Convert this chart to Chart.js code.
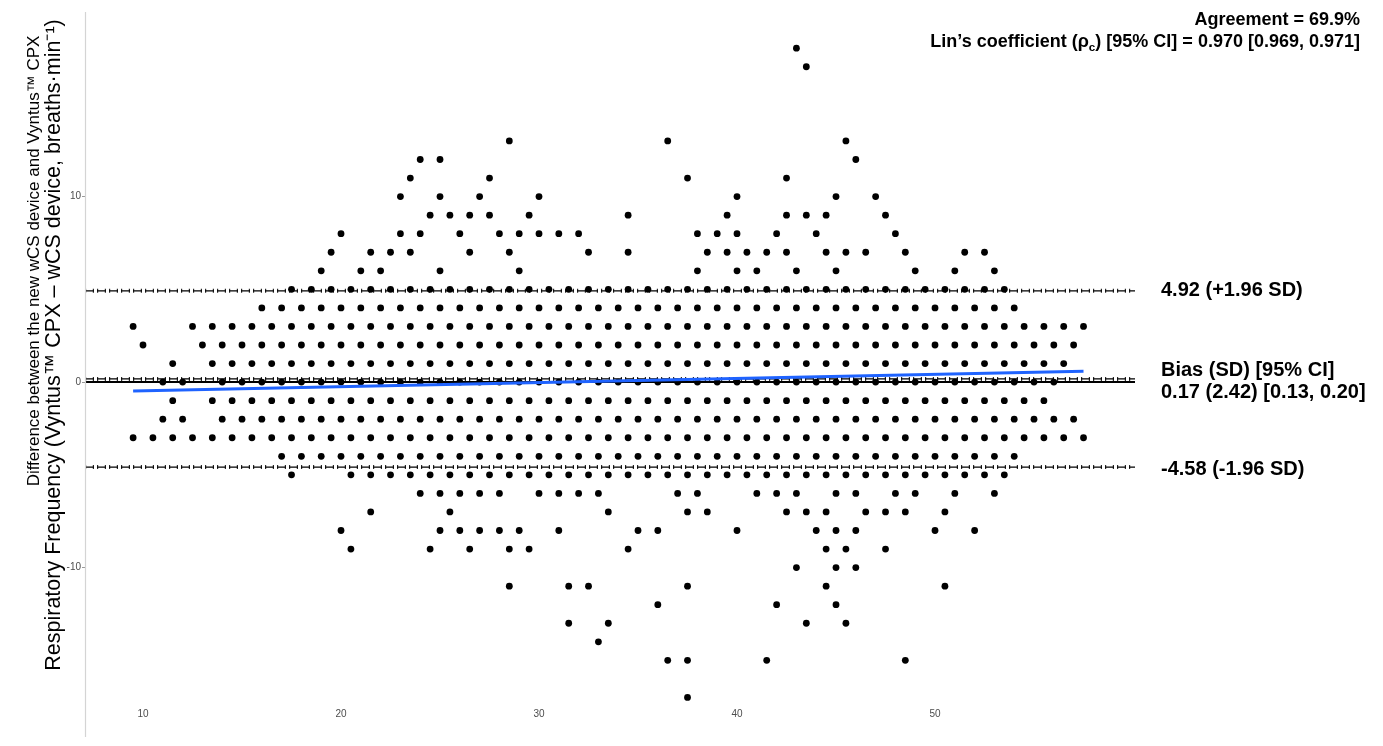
<!DOCTYPE html>
<html>
<head>
<meta charset="utf-8">
<script src="https://cdn.jsdelivr.net/npm/chart.js@4.4.1/dist/chart.umd.min.js"></script>
<style>
  html, body { margin: 0; padding: 0; background: #fff; }
  #wrap { width: 1383px; height: 746px; }
</style>
</head>
<body>
<div id="wrap"><canvas id="ba" width="1383" height="746"></canvas></div>
<script>
(() => {
  // difference levels (breaths/min) and the mean values found on each level
  const DIFF_LEVELS = [18, 17, 13, 12, 11, 10, 9, 8, 7, 6, 5, 4, 3, 2, 1, 0,
    -1, -2, -3, -4, -5, -6, -7, -8, -9, -10, -11, -12, -13, -14, -15, -17];

  const MEANS_AT_LEVEL = [
    [43],
    [43.5],
    [28.5, 36.5, 45.5],
    [24, 25, 46],
    [23.5, 27.5, 37.5, 42.5],
    [23, 25, 27, 30, 40, 45, 47],
    [24.5, 25.5, 26.5, 27.5, 29.5, 34.5, 39.5, 42.5, 43.5, 44.5, 47.5],
    [20, 23, 24, 26, 28, 29, 30, 31, 32, 38, 39, 40, 42, 44, 48],
    [19.5, 21.5, 22.5, 23.5, 26.5, 28.5, 32.5, 34.5, 38.5, 39.5, 40.5, 41.5, 42.5, 44.5, 45.5, 46.5, 48.5, 51.5, 52.5],
    [19, 21, 22, 25, 29, 38, 40, 41, 43, 45, 49, 51, 53],
    [17.5, 18.5, 19.5, 20.5, 21.5, 22.5, 23.5, 24.5, 25.5, 26.5, 27.5, 28.5, 29.5, 30.5, 31.5, 32.5, 33.5, 34.5, 35.5,
     36.5, 37.5, 38.5, 39.5, 40.5, 41.5, 42.5, 43.5, 44.5, 45.5, 46.5, 47.5, 48.5, 49.5, 50.5, 51.5, 52.5, 53.5],
    [16, 17, 18, 19, 20, 21, 22, 23, 24, 25, 26, 27, 28, 29, 30, 31, 32, 33, 34, 35,
     36, 37, 38, 39, 40, 41, 42, 43, 44, 45, 46, 47, 48, 49, 50, 51, 52, 53, 54],
    [9.5, 12.5, 13.5, 14.5, 15.5, 16.5, 17.5, 18.5, 19.5, 20.5, 21.5, 22.5, 23.5, 24.5, 25.5, 26.5, 27.5, 28.5, 29.5, 30.5, 31.5, 32.5, 33.5, 34.5,
     35.5, 36.5, 37.5, 38.5, 39.5, 40.5, 41.5, 42.5, 43.5, 44.5, 45.5, 46.5, 47.5, 48.5, 49.5, 50.5, 51.5, 52.5, 53.5, 54.5, 55.5, 56.5, 57.5],
    [10, 13, 14, 15, 16, 17, 18, 19, 20, 21, 22, 23, 24, 25, 26, 27, 28, 29, 30, 31, 32, 33, 34, 35,
     36, 37, 38, 39, 40, 41, 42, 43, 44, 45, 46, 47, 48, 49, 50, 51, 52, 53, 54, 55, 56, 57],
    [11.5, 13.5, 14.5, 15.5, 16.5, 17.5, 18.5, 19.5, 20.5, 21.5, 22.5, 23.5, 24.5, 25.5, 26.5, 27.5, 28.5, 29.5, 30.5, 31.5, 32.5, 33.5, 34.5,
     35.5, 36.5, 37.5, 38.5, 39.5, 40.5, 41.5, 42.5, 43.5, 44.5, 45.5, 46.5, 47.5, 48.5, 49.5, 50.5, 51.5, 52.5, 53.5, 54.5, 55.5, 56.5],
    [11, 12, 14, 15, 16, 17, 18, 19, 20, 21, 22, 23, 24, 25, 26, 27, 28, 29, 30, 31, 32, 33, 34, 35,
     36, 37, 38, 39, 40, 41, 42, 43, 44, 45, 46, 47, 48, 49, 50, 51, 52, 53, 54, 55, 56],
    [11.5, 13.5, 14.5, 15.5, 16.5, 17.5, 18.5, 19.5, 20.5, 21.5, 22.5, 23.5, 24.5, 25.5, 26.5, 27.5, 28.5, 29.5, 30.5, 31.5, 32.5, 33.5, 34.5,
     35.5, 36.5, 37.5, 38.5, 39.5, 40.5, 41.5, 42.5, 43.5, 44.5, 45.5, 46.5, 47.5, 48.5, 49.5, 50.5, 51.5, 52.5, 53.5, 54.5, 55.5],
    [11, 12, 14, 15, 16, 17, 18, 19, 20, 21, 22, 23, 24, 25, 26, 27, 28, 29, 30, 31, 32, 33, 34, 35,
     36, 37, 38, 39, 40, 41, 42, 43, 44, 45, 46, 47, 48, 49, 50, 51, 52, 53, 54, 55, 56, 57],
    [9.5, 10.5, 11.5, 12.5, 13.5, 14.5, 15.5, 16.5, 17.5, 18.5, 19.5, 20.5, 21.5, 22.5, 23.5, 24.5, 25.5, 26.5, 27.5, 28.5, 29.5, 30.5, 31.5, 32.5, 33.5,
     34.5, 35.5, 36.5, 37.5, 38.5, 39.5, 40.5, 41.5, 42.5, 43.5, 44.5, 45.5, 46.5, 47.5, 48.5, 49.5, 50.5, 51.5, 52.5, 53.5, 54.5, 55.5, 56.5, 57.5],
    [17, 18, 19, 20, 21, 22, 23, 24, 25, 26, 27, 28, 29, 30, 31, 32, 33, 34, 35,
     36, 37, 38, 39, 40, 41, 42, 43, 44, 45, 46, 47, 48, 49, 50, 51, 52, 53, 54],
    [17.5, 20.5, 21.5, 22.5, 23.5, 24.5, 25.5, 26.5, 27.5, 28.5, 29.5, 30.5, 31.5, 32.5, 33.5, 34.5, 35.5,
     36.5, 37.5, 38.5, 39.5, 40.5, 41.5, 42.5, 43.5, 44.5, 45.5, 46.5, 47.5, 48.5, 49.5, 50.5, 51.5, 52.5, 53.5],
    [24, 25, 26, 27, 28, 30, 31, 32, 33, 37, 38, 41, 42, 43, 45, 46, 48, 49, 51, 53],
    [21.5, 25.5, 33.5, 37.5, 38.5, 42.5, 43.5, 44.5, 46.5, 47.5, 48.5, 50.5],
    [20, 25, 26, 27, 28, 29, 31, 35, 36, 40, 44, 45, 46, 50, 52],
    [20.5, 24.5, 26.5, 28.5, 29.5, 34.5, 44.5, 45.5, 47.5],
    [43, 45, 46],
    [28.5, 31.5, 32.5, 37.5, 44.5, 50.5],
    [36, 42, 45],
    [31.5, 33.5, 43.5, 45.5],
    [33],
    [36.5, 37.5, 41.5, 48.5],
    [37.5]
  ];

  // linear trend of difference on mean
  const FIT_X = [9.5, 57.5];
  const FIT_Y = [-0.48, 0.58];

  const UPPER_LOA = 4.92;
  const BIAS = 0.17;
  const LOWER_LOA = -4.58;

  const X_TICKS = [10, 20, 30, 40, 50];
  const Y_TICKS = [-10, 0, 10];

  const X_MIN = 7.07, X_MAX = 60.1;
  const Y_MIN = -17.46, Y_MAX = 19.95;

  const FONT = "'Liberation Sans', Arial, Helvetica, sans-serif";

  const points = [];
  DIFF_LEVELS.forEach((d, i) => {
    MEANS_AT_LEVEL[i].forEach(m => points.push({ x: m, y: d }));
  });

  function hline(value, extra) {
    return Object.assign({
      type: 'line',
      data: [{ x: X_MIN, y: value }, { x: X_MAX, y: value }],
      borderColor: '#000',
      pointRadius: 0,
      fill: false,
      order: 3
    }, extra);
  }

  const datasets = [];
  [UPPER_LOA, BIAS, LOWER_LOA].forEach(v => {
    datasets.push(hline(v, { borderWidth: 1.3, borderDash: [9, 3] }));
    datasets.push(hline(v, { borderWidth: 4, borderColor: '#2a2a2a', borderDash: [1.2, 6.6, 1.2, 3] }));
  });
  datasets.push(hline(0, { borderWidth: 2 }));

  datasets.push({
    type: 'scatter',
    data: points,
    pointRadius: 3.4,
    pointBackgroundColor: '#000',
    pointBorderWidth: 0,
    order: 2
  });

  datasets.push({
    type: 'line',
    data: FIT_X.map((x, i) => ({ x, y: FIT_Y[i] })),
    borderColor: '#1f63ff',
    borderWidth: 3,
    pointRadius: 0,
    fill: false,
    order: 1
  });

  function richText(ctx, parts, xRight, y, size) {
    let total = 0;
    parts.forEach(p => {
      ctx.font = 'bold ' + (p.sub ? size * 0.65 : size) + 'px ' + FONT;
      p.w = ctx.measureText(p.t).width;
      total += p.w;
    });
    let x = xRight - total;
    parts.forEach(p => {
      ctx.font = 'bold ' + (p.sub ? size * 0.65 : size) + 'px ' + FONT;
      ctx.fillText(p.t, x, y + (p.sub ? size * 0.3 : 0));
      x += p.w;
    });
  }

  const annotate = {
    id: 'annotate',
    afterDraw(chart) {
      const { ctx, chartArea, scales } = chart;
      const ys = scales.y;
      ctx.save();

      // y axis line
      ctx.strokeStyle = '#d4d4d4';
      ctx.lineWidth = 1.2;
      ctx.beginPath();
      ctx.moveTo(chartArea.left + 0.5, chartArea.top);
      ctx.lineTo(chartArea.left + 0.5, chartArea.bottom + 31);
      ctx.stroke();

      ctx.fillStyle = '#000';
      ctx.textBaseline = 'middle';

      // y axis titles
      ctx.save();
      ctx.textAlign = 'center';
      ctx.translate(34, 261);
      ctx.rotate(-Math.PI / 2);
      ctx.font = '17px ' + FONT;
      ctx.fillText('Difference between the new wCS device and Vyntus\u2122 CPX', 0, 0);
      ctx.restore();

      ctx.save();
      ctx.textAlign = 'center';
      ctx.translate(54, 345);
      ctx.rotate(-Math.PI / 2);
      ctx.font = '21.5px ' + FONT;
      ctx.fillText('Respiratory Frequency (Vyntus\u2122 CPX \u2013 wCS device, breaths\u00b7min\u207b\u00b9)', 0, 0);
      ctx.restore();

      // header
      ctx.textAlign = 'left';
      richText(ctx, [{ t: 'Agreement = 69.9%' }], 1360, 20, 18);
      richText(ctx, [
        { t: 'Lin\u2019s coefficient (\u03c1' },
        { t: 'c', sub: true },
        { t: ') [95% CI] = 0.970 [0.969, 0.971]' }
      ], 1360, 42, 18);

      // limit labels
      const lx = chartArea.right + 26;
      ctx.font = 'bold 20px ' + FONT;
      ctx.fillText('4.92 (+1.96 SD)', lx, ys.getPixelForValue(UPPER_LOA));
      ctx.fillText('Bias (SD) [95% CI]', lx, ys.getPixelForValue(BIAS) - 8);
      ctx.fillText('0.17 (2.42) [0.13, 0.20]', lx, ys.getPixelForValue(BIAS) + 14);
      ctx.fillText('-4.58 (-1.96 SD)', lx, ys.getPixelForValue(LOWER_LOA) + 2);

      ctx.restore();
    }
  };

  new Chart(document.getElementById('ba'), {
    type: 'scatter',
    data: { datasets },
    options: {
      responsive: false,
      animation: false,
      devicePixelRatio: 1,
      layout: { padding: { top: 12, right: 248, bottom: 0, left: 0 } },
      plugins: { legend: { display: false }, tooltip: { enabled: false } },
      scales: {
        x: {
          type: 'linear',
          min: X_MIN,
          max: X_MAX,
          border: { display: false },
          grid: { display: false, drawTicks: false },
          ticks: { padding: 2, color: '#4d4d4d', font: { family: FONT, size: 10 } },
          afterBuildTicks: s => { s.ticks = X_TICKS.map(v => ({ value: v })); },
          afterFit: s => { s.height = 40; }
        },
        y: {
          type: 'linear',
          min: Y_MIN,
          max: Y_MAX,
          border: { display: false },
          grid: { drawOnChartArea: false, drawTicks: true, tickLength: 3, color: '#9a9a9a' },
          ticks: { padding: 1, color: '#4d4d4d', font: { family: FONT, size: 10 } },
          afterBuildTicks: s => { s.ticks = Y_TICKS.map(v => ({ value: v })); },
          afterFit: s => { s.width = 85; }
        }
      }
    },
    plugins: [annotate]
  });
})();
</script>
</body>
</html>
